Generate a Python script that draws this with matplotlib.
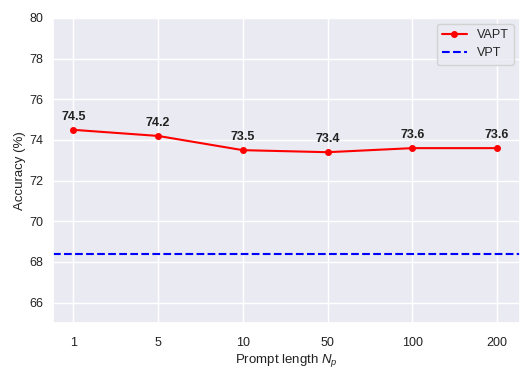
import matplotlib
matplotlib.use("Agg")
import matplotlib.pyplot as plt
import seaborn as sns

prompt_lengths = ["1", "5", "10", "50", "100", "200"]
vapt_acc = [74.5, 74.2, 73.5, 73.4, 73.6, 73.6]
vpt_acc = 68.4

sns.set_theme(style="darkgrid")
plt.rcParams['font.family'] = ['Liberation Sans', 'DejaVu Sans']
plt.rcParams['mathtext.fontset'] = 'custom'
plt.rcParams['mathtext.it'] = 'Liberation Sans:italic'
plt.rcParams['mathtext.rm'] = 'Liberation Sans'

fig = plt.figure(figsize=(5.32, 3.8), dpi=100)
ax = fig.add_axes([53/532, 1-323/380, (520-53)/532, (323-18)/380])

x = list(range(len(prompt_lengths)))
ax.plot(x, vapt_acc, color='red', marker='o', markersize=4, linewidth=1.5, label='VAPT')
ax.axhline(vpt_acc, color='blue', linestyle='--', linewidth=1.5, label='VPT')
for xi, v in zip(x, vapt_acc):
    ax.annotate(f"{v}", (xi, v), xytext=(0, 5), textcoords='offset points',
                ha='center', va='bottom', fontsize=9, fontweight='bold', color='#222222')

ax.set_xticks(x)
ax.set_xticklabels(prompt_lengths)
ax.set_xlim(-0.24, 5.27)
ax.set_ylim(65, 80)
ax.set_yticks([66, 68, 70, 72, 74, 76, 78, 80])
ax.tick_params(labelsize=9, colors='#222222')
ax.tick_params(axis='x', pad=4)
ax.tick_params(axis='y', pad=1)
ax.set_xlabel(r"Prompt length $N_p$", fontsize=9.5, color='#222222', labelpad=2)
ax.set_ylabel("Accuracy (%)", fontsize=9.5, color='#222222', labelpad=2.5)
ax.legend(loc='upper right', fontsize=9)

fig.savefig("out.png", dpi=100)
